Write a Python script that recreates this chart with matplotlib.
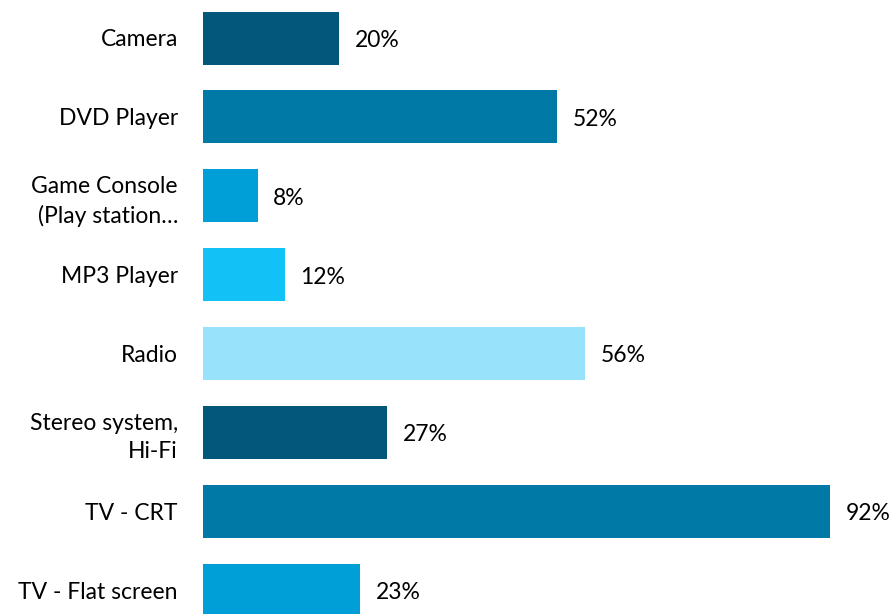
import matplotlib
matplotlib.use("Agg")
import matplotlib.pyplot as plt

categories = ["Camera", "DVD Player", "Game Console\n(Play station…", "MP3 Player",
              "Radio", "Stereo system,\nHi-Fi", "TV - CRT", "TV - Flat screen"]
values = [20, 52, 8, 12, 56, 27, 92, 23]
colors = ["#02577A", "#0079A6", "#009FD7", "#12C1F6", "#98E2FC",
          "#02577A", "#0079A6", "#009FD7"]

plt.rcParams['font.family'] = ['Lato', 'DejaVu Sans']
W, H = 895, 614
fig = plt.figure(figsize=(W/100, H/100), dpi=100)
left = 203
ax = fig.add_axes([left/W, 0, (W-left)/W, 1])
step = 78.9
c0 = 38
ax.set_ylim((H - c0)/step, -c0/step)
ax.set_xlim(0, (W-left)/6.815)
ys = list(range(len(categories)))
ax.barh(ys, values, height=53/step, color=colors)
for y, v in zip(ys, values):
    ax.text(v + 2.3, y + 0.03, f"{v}%", va="center", ha="left", fontsize=16.5, color="black")
ax.set_yticks(ys)
ax.set_yticklabels(categories, fontsize=16.5, linespacing=1.4)
ax.tick_params(axis="y", length=0, pad=18)
ax.set_xticks([])
for s in ax.spines.values():
    s.set_visible(False)
fig.savefig("out.png", dpi=100)
